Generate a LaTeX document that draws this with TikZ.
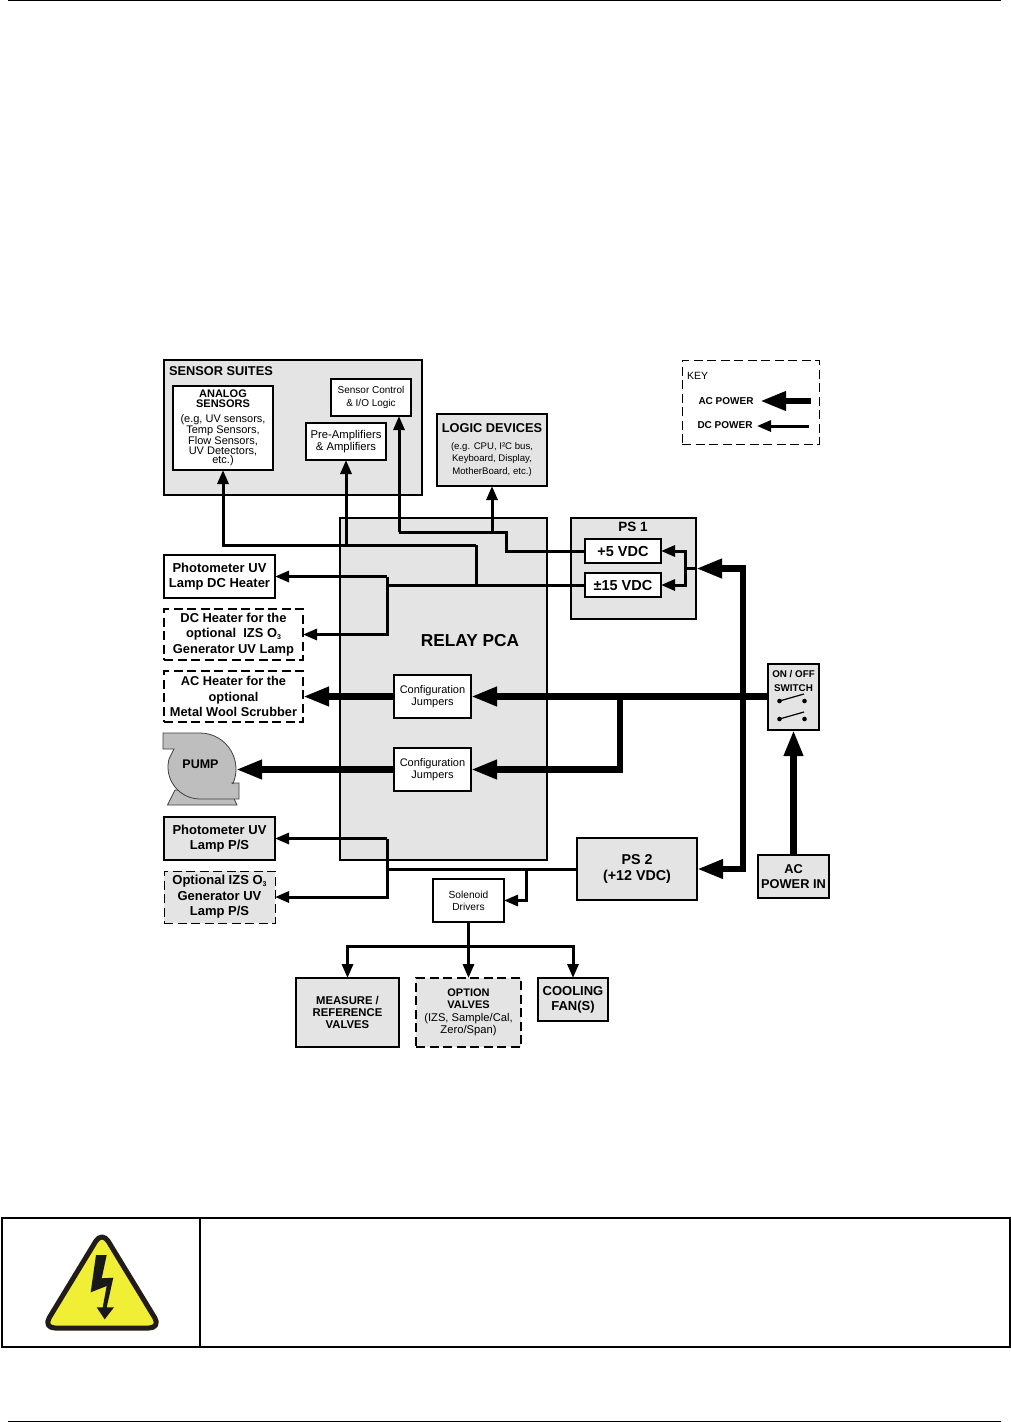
\documentclass[tikz,border=0pt]{standalone}
\usepackage{fontspec}
\setmainfont{Liberation Sans}
\usetikzlibrary{arrows.meta}
\newcommand{\fs}[2]{\fontsize{#1}{#2}\selectfont}
\newcommand{\subt}{\raisebox{-1.5pt}{\fs{7}{7}3}}
\newcommand{\bx}[7]{\node (#1) [#2,anchor=north west,minimum width={(#5-#3)*1pt},minimum height={(#6-#4)*1pt}] at (#3,#4) {#7};}
\newcommand{\hb}[2]{\fs{#1}{#1}\bfseries #2}
\definecolor{panel}{HTML}{E4E4E4}
\definecolor{pumpgrey}{HTML}{BEBEBE}
\definecolor{warn}{HTML}{F0EE35}
\definecolor{warnedge}{HTML}{211C1A}
\tikzset{
  basebox/.style={inner sep=0pt,outer sep=0pt,align=center,text=black},
  greybox/.style={basebox,draw=black,line width=1.5pt,fill=panel},
  whitebox/.style={basebox,draw=black,line width=1.5pt,fill=white},
  dashedge/.style={dash pattern=on 9pt off 4.5pt},
  tlabel/.style={inner sep=0pt,outer sep=0pt,align=center,text=black},
  dc/.style={draw=black,line width=3pt,-{Triangle[length=14pt,width=11pt]},line join=miter},
  ac/.style={draw=black,line width=6.5pt,-{Triangle[length=26pt,width=18pt]},line join=miter},
  dcline/.style={draw=black,line width=3pt,line join=miter},
}
\begin{document}
\begin{tikzpicture}[x=1pt,y=-1pt]
\useasboundingbox (0,0) rectangle (1011,1422);
\fill[white] (0,0) rectangle (1011,1422);
% page furniture
\draw[line width=1pt] (8,0.5) -- (1001,0.5);
\draw[line width=1pt] (8,1421.5) -- (1001,1421.5);
\draw[line width=1.2pt] (2,1218) rectangle (1010,1347);
\draw[line width=1.2pt] (200,1218) -- (200,1347);
% warning sign
\draw[draw=warnedge,fill=warn,line width=5pt,rounded corners=12pt,line join=round]
  (102,1231) -- (161,1328) -- (43,1328) -- cycle;
\fill[black!90] (96,1255) -- (106.7,1255) -- (101.7,1278.3) -- (113.3,1277.7) -- (106.7,1307.3) -- (114,1307.3) -- (104.7,1319.3) -- (96.7,1307.3) -- (102.7,1307.3) -- (106.7,1286) -- (90.7,1292.3) -- cycle;
% boxes
\bx{relay}{basebox,draw=black,line width=1.2pt,fill=panel}{340}{518}{547}{860}{}
\bx{suite}{greybox}{164}{360}{422}{495}{}
\bx{analog}{whitebox,font=\fs{11}{9.5}}{173}{386}{273}{470}{\hb{11}{ANALOG}\\[0.5pt]\hb{11}{SENSORS}\\[5pt](e.g, UV sensors,\\Temp Sensors,\\Flow Sensors,\\UV Detectors,\\etc.)}
\bx{sensctl}{whitebox,font=\fs{10}{12.5}}{331}{379}{411}{416}{Sensor Control\\\& I/O Logic}
\bx{preamp}{whitebox,font=\fs{11.3}{9.5}}{306}{423}{386}{460}{Pre-Amplifiers\\\& Amplifiers}
\bx{logic}{greybox,font=\fs{9.6}{12.5}}{437}{414}{547}{486}{\hb{12.8}{LOGIC DEVICES}\\[4pt](e.g. CPU, I²C bus,\\Keyboard, Display,\\MotherBoard, etc.)}
\bx{ps1}{greybox}{571}{518}{696}{619}{}
\bx{five}{whitebox,font=\fs{14.5}{14}\bfseries}{585}{539}{661}{563}{+5 VDC}
\bx{fifteen}{whitebox,font=\fs{14.5}{14}\bfseries}{585}{573}{661}{597}{±15 VDC}
\bx{keybox}{basebox,draw=black,line width=1pt,dashedge,fill=white}{682}{360}{819}{444}{}
\bx{heater}{whitebox,font=\fs{13}{15.5}\bfseries}{164}{555}{275}{598}{Photometer UV\\Lamp DC Heater}
\bx{dcheater}{whitebox,dashedge,font=\fs{12.9}{15.5}\bfseries}{164}{609}{303}{660}{DC Heater for the\\optional~~IZS O\subt\\Generator UV Lamp}
\bx{acheater}{whitebox,dashedge,font=\fs{12.8}{15.5}\bfseries}{164}{671}{303}{722}{AC Heater for the\\optional\\Metal Wool Scrubber}
\bx{jumpa}{whitebox,font=\fs{11}{12}}{394}{675}{471}{718}{Configuration\\Jumpers}
\bx{jumpb}{whitebox,font=\fs{11}{12}}{394}{748}{471}{791}{Configuration\\Jumpers}
\bx{switch}{greybox}{768}{664}{819}{730}{}
\bx{ps2}{greybox,font=\fs{14.3}{15.5}\bfseries}{577}{838}{697}{900}{PS 2\\(+12 VDC)}
\bx{acin}{greybox,font=\fs{12.8}{15.5}\bfseries}{758}{855}{829}{898}{AC\\POWER IN}
\bx{lamp}{greybox,font=\fs{13}{15.5}\bfseries}{164}{817}{275}{860}{Photometer UV\\Lamp P/S}
\bx{optlamp}{basebox,draw=black,line width=1pt,dashedge,fill=panel,font=\fs{13}{15.5}\bfseries}{164}{871}{275}{923}{Optional IZS O\subt\\Generator UV\\Lamp P/S}
\bx{solenoid}{whitebox,font=\fs{10.2}{12}}{433}{879}{504}{922}{Solenoid\\Drivers}
\bx{measure}{greybox,font=\fs{11.3}{12.2}\bfseries}{296}{978}{399}{1047}{MEASURE /\\REFERENCE\\VALVES}
\bx{option}{greybox,dashedge,font=\fs{11.2}{12.5}}{416}{978}{521}{1047}{\hb{11}{OPTION}\\\hb{11}{VALVES}\\(IZS, Sample/Cal,\\Zero/Span)}
\bx{fan}{greybox,font=\fs{13}{15}\bfseries}{538}{978}{608}{1021}{COOLING\\FAN(S)}
% pump
\draw[draw=black!75,line width=0.8pt,fill=pumpgrey] (167.5,805) -- (175,790) -- (230,790) -- (237,805) -- cycle;
\draw[draw=black!75,line width=0.8pt,fill=pumpgrey] (163,733) -- (200,733) arc[start angle=-90,end angle=24,radius=36] -- (232,783) -- (239,783) -- (239,799) -- (200,799) arc[start angle=90,end angle=195,radius=32] -- (174,749) -- (163,749) -- cycle;
% labels
\node (tsuite) [tlabel,anchor=west,font=\fs{12.8}{13}\bfseries] at (169,371) {SENSOR SUITES};
\node (trelay) [tlabel,font=\fs{17.3}{18}\bfseries] at (470,641) {RELAY PCA};
\node (tps) [tlabel,font=\fs{13.5}{13}\bfseries] at (633,527) {PS 1};
\node (tswitch) [tlabel,font=\fs{9.8}{14}\bfseries] at (793.5,681) {ON / OFF\\SWITCH};
\node (pump) [tlabel,font=\fs{12.5}{13}\bfseries] at (200.5,764.5) {PUMP};
\node (tkey) [tlabel,anchor=west,font=\fs{10.5}{11}] at (687,376) {KEY};
\node (tac) [tlabel,font=\fs{10}{10}\bfseries] at (726,401) {AC POWER};
\node (tdc) [tlabel,font=\fs{10}{10}\bfseries] at (725,425) {DC POWER};
% switch contacts
\foreach \yy in {701,719}{
  \fill (779.5,\yy) circle (2.3pt);
  \fill (804.5,\yy) circle (2.3pt);
  \draw[line width=1.2pt] (779.5,\yy) -- (804,\yy-7);
}
% key arrows
\coordinate (kacR) at (811,401);
\coordinate (kacL) at (760,401);
\coordinate (kdcR) at (809,426);
\coordinate (kdcL) at (757,426);
\draw[ac] (kacR) -- (kacL);
\draw[dc] (kdcR) -- (kdcL);
% connector junctions
\coordinate (acrail) at (743,696.5);
\coordinate (railTop) at (743,568.5);
\coordinate (railBot) at (743,869);
\coordinate (pumpport) at (236,769.5);
\coordinate (busA) at (387,585);
\coordinate (busAtop) at (387,576.5);
\coordinate (busAbot) at (387,634.5);
\coordinate (tap) at (476,585);
\coordinate (tapTop) at (476,545);
\coordinate (tapAn) at (223,545);
\coordinate (tapPre) at (346,545);
\coordinate (fiveA) at (506,551);
\coordinate (fiveB) at (506,532);
\coordinate (fiveC) at (399,532);
\coordinate (fiveD) at (492,532);
\coordinate (psIn) at (685,568.5);
\coordinate (busB) at (387,869);
\coordinate (busBtop) at (387,838.5);
\coordinate (busBbot) at (387,897);
\coordinate (solTap) at (526,869);
\coordinate (solIn) at (526,900.5);
\coordinate (valve) at (468.5,946.5);
\coordinate (valveL) at (347.5,946.5);
\coordinate (valveR) at (573,946.5);
\coordinate (jumpTee) at (620,696.5);
\coordinate (jumpTeeB) at (620,769.5);
% DC power
\draw[dc] (tapTop) -- (tapAn) -- (analog.south);
\draw[dc] (tapPre) -- (preamp.south);
\draw[dcline] (fifteen.west) -- (busA);
\draw[dcline] (tap) -- (tapTop);
\draw[dc] (busAtop) -- (heater.east);
\draw[dc] (busAtop) -- (busAbot) -- (dcheater.east);
\draw[dcline] (five.west) -- (fiveA) -- (fiveB) -- (fiveC);
\draw[dc] (fiveC) -- ([xshift=28pt]sensctl.south);
\draw[dc] (fiveD) -- (logic.south);
\draw[dcline] (ps1.east) -- (psIn);
\draw[dc] (psIn) |- (five.east);
\draw[dc] (psIn) |- (fifteen.east);
\draw[dcline] (ps2.west) -- (busB);
\draw[dc] (busBtop) -- (lamp.east);
\draw[dc] (busBtop) -- (busBbot) -- (optlamp.east);
\draw[dc] (solTap) -- (solIn) -- (solenoid.east);
\draw[dc] (solenoid.south) -- (option.north);
\draw[dc] (valve) -- (valveL) -- (measure.north);
\draw[dc] (valve) -- (valveR) -- (fan.north);
% AC power
\draw[ac] (switch.west |- acrail) -- (jumpa.east);
\draw[ac] (jumpa.west) -- (acheater.east);
\draw[ac] (jumpTee) -- (jumpTeeB) -- (jumpb.east);
\draw[ac] (jumpb.west) -- (pumpport);
\draw[ac] (acrail) -- (railTop) -- (ps1.east);
\draw[ac] (acrail) -- (railBot) -- (ps2.east);
\draw[ac] (acin.north) -- (switch.south);
\end{tikzpicture}
\end{document}
